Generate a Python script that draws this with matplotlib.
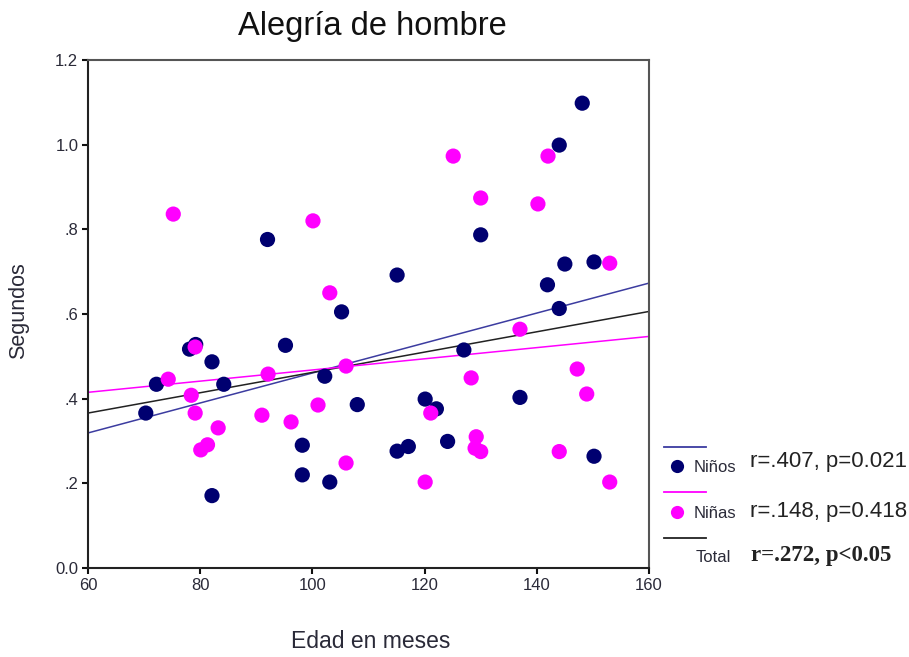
import numpy as np
import matplotlib.pyplot as plt
from matplotlib.lines import Line2D

# data
ninos_x = [70.3, 72.2, 78.1, 79.2, 82.1, 84.2, 82.1, 92.0, 95.2, 98.2, 98.2, 102.2, 103.1,
           105.2, 108.0, 115.1, 115.1, 117.1, 120.1, 122.1, 124.1, 127.0, 130.0, 137.0,
           141.9, 144.0, 144.0, 145.0, 148.1, 150.2, 150.2]
ninos_y = [0.366, 0.434, 0.517, 0.528, 0.487, 0.434, 0.171, 0.776, 0.526, 0.290, 0.220, 0.453,
           0.203, 0.605, 0.386, 0.692, 0.276, 0.287, 0.399, 0.376, 0.299, 0.515, 0.787, 0.403,
           0.669, 0.613, 0.999, 0.718, 1.098, 0.723, 0.264]

ninas_x = [74.3, 75.2, 78.4, 79.1, 79.1, 80.1, 81.3, 83.2, 91.0, 92.1, 96.2, 100.1, 101.0,
           103.1, 106.0, 106.0, 120.1, 121.1, 125.1, 128.3, 129.2, 129.0, 130.0, 130.0,
           137.0, 140.2, 142.0, 144.0, 147.2, 148.9, 153.0, 153.0]
ninas_y = [0.446, 0.836, 0.408, 0.522, 0.366, 0.279, 0.291, 0.331, 0.361, 0.458, 0.345, 0.820,
           0.385, 0.650, 0.477, 0.248, 0.203, 0.366, 0.973, 0.449, 0.310, 0.283, 0.275, 0.874,
           0.564, 0.860, 0.973, 0.275, 0.470, 0.411, 0.720, 0.203]

# fitted lines (values at x = 60 and x = 160)
fit_x = [60, 160]
fit_ninos = [0.319, 0.673]
fit_ninas = [0.415, 0.547]
fit_total = [0.366, 0.606]

y_ticks = [0.0, 0.2, 0.4, 0.6, 0.8, 1.0, 1.2]
y_labels = ["0.0", ".2", ".4", ".6", ".8", "1.0", "1.2"]
x_ticks = [60, 80, 100, 120, 140, 160]

navy = "#000070"
pink = "#ff00ff"
blue_line = "#3c3ca0"
txt = "#2a2a38"

plt.rcParams['font.family'] = ['Liberation Sans', 'DejaVu Sans']

W, H = 909, 657
fig = plt.figure(figsize=(W / 100, H / 100), dpi=100)
ax = fig.add_axes([88 / W, 1 - 568 / H, (649 - 88) / W, (568 - 60) / H])

ax.plot(fit_x, fit_ninos, color=blue_line, lw=1.1, zorder=2)
ax.plot(fit_x, fit_total, color="#222222", lw=1.1, zorder=2)
ax.plot(fit_x, fit_ninas, color=pink, lw=1.1, zorder=2)
ax.scatter(ninos_x, ninos_y, s=120, color=navy, edgecolors="none", zorder=3)
ax.scatter(ninas_x, ninas_y, s=120, color=pink, edgecolors="none", zorder=4)

ax.set_xlim(60, 160)
ax.set_ylim(0, 1.2)
ax.set_xticks(x_ticks)
ax.set_yticks(y_ticks)
ax.set_yticklabels(y_labels)
ax.tick_params(length=4, width=1.5, color="#111111", labelsize=12, labelcolor=txt, pad=3)
for s in ax.spines.values():
    s.set_color("#555555")
    s.set_linewidth(1.5)
ax.spines['left'].set_color("#222222")
ax.spines['bottom'].set_color("#222222")

fig.text(372 / W, 1 - 26 / H, "Alegría de hombre", fontsize=23.5, ha="center", va="center",
         color="#111111")
fig.text(19 / W, 1 - 311 / H, "Segundos", fontsize=15.5, rotation=90, ha="center", va="center",
         color=txt)
fig.text(371 / W, 1 - 641 / H, "Edad en meses", fontsize=16.5, ha="center", va="center",
         color=txt)

# legend block on the right
def fx(px):
    return px / W

def fy(py):
    return 1 - py / H

for yy, c in [(447, blue_line), (492, pink), (538, "#222222")]:
    fig.add_artist(Line2D([fx(664), fx(706)], [fy(yy), fy(yy)], color=c, lw=1.3))
for yy, c in [(466, navy), (512, pink)]:
    fig.add_artist(Line2D([fx(677)], [fy(yy)], marker="o", markersize=9.5, color=c,
                          markeredgewidth=0))

fig.text(fx(694), fy(467), "Niños", fontsize=12, va="center", color=txt)
fig.text(fx(694), fy(513), "Niñas", fontsize=12, va="center", color=txt)
fig.text(fx(696), fy(558), "Total", fontsize=12, va="center", color=txt)
fig.text(fx(750), fy(461), "r=.407, p=0.021", fontsize=16, va="center", color="#222222")
fig.text(fx(750), fy(512), "r=.148, p=0.418", fontsize=16, va="center", color="#222222")
fig.text(fx(751), fy(555), "r=.272, p<0.05", fontsize=16.5, va="center", weight="bold",
         family=["Liberation Serif", "DejaVu Serif"], color="#222222")

fig.savefig("out.png", dpi=100)
